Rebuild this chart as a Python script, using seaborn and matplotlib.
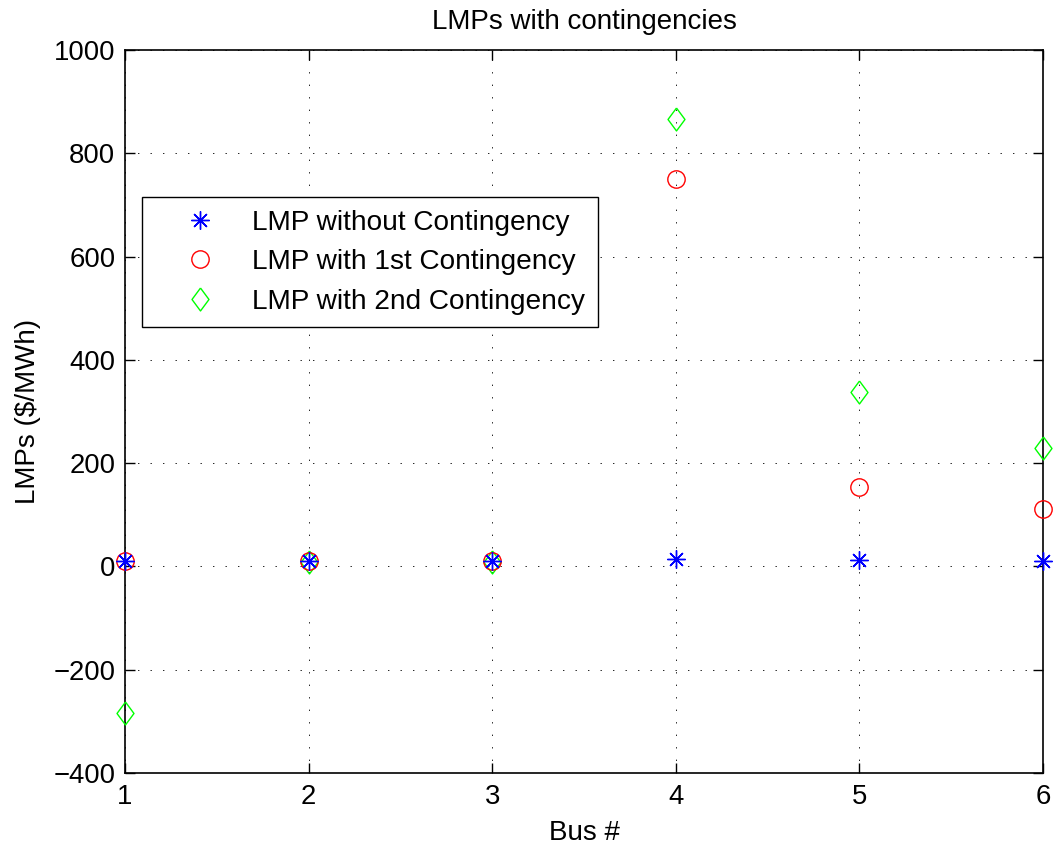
import numpy as np
import pandas as pd
import matplotlib
matplotlib.use("Agg")
import matplotlib.pyplot as plt
import seaborn as sns

# Data
buses = [1, 2, 3, 4, 5, 6]
lmp_no_cont = [10, 10, 10, 15, 12, 11]
lmp_cont1 = [10, 10, 10, 750, 154, 111]
lmp_cont2 = [-284, 9, 9, 866, 337, 229]
series_labels = ["LMP without Contingency", "LMP with 1st Contingency", "LMP with 2nd Contingency"]
xticks = [1, 2, 3, 4, 5, 6]
yticks = [-400, -200, 0, 200, 400, 600, 800, 1000]

sns.set_theme(style="white")
plt.rcParams['font.family'] = ['Liberation Sans', 'DejaVu Sans']
plt.rcParams['lines.scale_dashes'] = False
plt.rcParams['text.color'] = 'black'
plt.rcParams['axes.labelcolor'] = 'black'

fig = plt.figure(figsize=(10.55, 8.49), dpi=100)
ax = fig.add_axes([125/1055, 1-773/849, 918/1055, 723/849])

diamond = [(0, 1), (0.74, 0), (0, -1), (-0.74, 0), (0, 1)]

sns.lineplot(x=buses, y=lmp_no_cont, ax=ax, marker=(8, 2, 0), linestyle='none',
             color=(0, 0, 1), markeredgecolor=(0, 0, 1), markersize=13, markeredgewidth=1.0,
             label=series_labels[0], errorbar=None, sort=False, clip_on=False, zorder=5)
sns.lineplot(x=buses, y=lmp_cont1, ax=ax, marker='o', linestyle='none',
             color=(1, 0, 0), markerfacecolor='none', markeredgecolor=(1, 0, 0),
             markersize=12.5, markeredgewidth=1.0,
             label=series_labels[1], errorbar=None, sort=False, clip_on=False, zorder=4)
sns.lineplot(x=buses, y=lmp_cont2, ax=ax, marker=diamond, linestyle='none',
             color=(0, 1, 0), markerfacecolor='none', markeredgecolor=(0, 1, 0),
             markersize=16.5, markeredgewidth=1.0,
             label=series_labels[2], errorbar=None, sort=False, clip_on=False, zorder=3)

ax.set_xlim(1, 6)
ax.set_ylim(-400, 1000)
ax.set_xticks(xticks)
ax.set_yticks(yticks)
ax.set_xticklabels([str(v) for v in xticks])
ax.set_yticklabels([("\u2212" + str(-v)) if v < 0 else str(v) for v in yticks])

ax.grid(True, color='black', linestyle=(0, (1, 8)), linewidth=0.6)
ax.set_axisbelow(True)
for s in ax.spines.values():
    s.set_color('black')
    s.set_linewidth(1.2)
    s.set_visible(True)

ax.tick_params(axis='both', which='both', direction='in', length=7, width=1.0,
               top=True, right=True, bottom=True, left=True,
               labelsize=19.8, colors='black')
ax.tick_params(axis='x', pad=8)
ax.tick_params(axis='y', pad=7)

ax.set_title("LMPs with contingencies", fontsize=20, pad=15, color='black')
ax.set_xlabel("Bus #", fontsize=20, color='black', labelpad=7)
ax.set_ylabel("LMPs (\\$/MWh)", fontsize=20, color='black', labelpad=9)

leg = ax.legend(loc='upper left', bbox_to_anchor=(0.0185, 0.7967), borderaxespad=0,
                fontsize=20.2, frameon=True, fancybox=False, framealpha=1,
                edgecolor='black', borderpad=0.45, handlelength=3.26,
                handletextpad=0.22, labelspacing=0.48)
leg.get_frame().set_linewidth(1.0)
for t in leg.get_texts():
    t.set_color('black')

fig.savefig("out.png", dpi=100)
